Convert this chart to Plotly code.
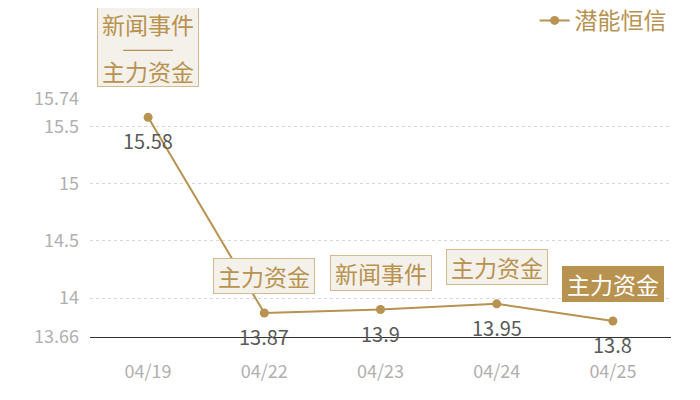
import plotly.graph_objects as go

dates = ["04/19", "04/22", "04/23", "04/24", "04/25"]
values = [15.58, 13.87, 13.9, 13.95, 13.8]
events = [["新闻事件", "主力资金"], ["主力资金"], ["新闻事件"], ["主力资金"], ["主力资金"]]
highlight = [False, False, False, False, True]
yticks = [13.66, 14, 14.5, 15, 15.5, 15.74]
series_name = "潜能恒信"

GOLD = "#b8924f"
CJK = "Noto Sans CJK SC"
BOXBG = "#f4f0ea"
BOXLINE = "#d2b98f"

fig = go.Figure()
fig.add_trace(go.Scatter(
    x=dates, y=values, mode="lines+markers", name=series_name,
    line=dict(color=GOLD, width=2),
    marker=dict(color=GOLD, size=9),
))

# value labels below points
for d, v in zip(dates, values):
    fig.add_annotation(x=d, y=v, text=str(v), showarrow=False,
                       yanchor="top", yshift=-7,
                       font=dict(family=CJK, size=20, color="#5a5a5a"))

# event boxes above points
for d, v, e, h in zip(dates, values, events, highlight):
    if len(e) == 1:
        fig.add_annotation(
            x=d, y=v, text=e[0], showarrow=False, yanchor="bottom", yshift=19,
            font=dict(family=CJK, size=23, color="#ffffff" if h else GOLD),
            bgcolor=GOLD if h else BOXBG,
            bordercolor=GOLD if h else BOXLINE,
            borderwidth=1, borderpad=1, width=98, height=32,
        )
    else:
        # box with the separator rule as its centred text
        fig.add_annotation(
            x=d, y=v, text="———", showarrow=False, yanchor="bottom", yshift=30,
            bgcolor=BOXBG, bordercolor=BOXLINE, borderwidth=1, borderpad=0,
            width=100, height=78, font=dict(family=CJK, size=21, color=GOLD),
        )
        for line_txt, s in zip(e, [93, 46]):
            fig.add_annotation(
                x=d, y=v, text=line_txt, showarrow=False, yanchor="middle", yshift=s,
                font=dict(family=CJK, size=23, color=GOLD),
            )

fig.update_layout(
    width=700, height=400,
    margin=dict(l=82, r=37, t=91, b=71, autoexpand=False),
    paper_bgcolor="white", plot_bgcolor="white",
    showlegend=True,
    legend=dict(x=0.948, y=1.33, xref="container", yref="paper",
                xanchor="right", yanchor="middle",
                font=dict(family=CJK, size=23, color=GOLD),
                bgcolor="rgba(0,0,0,0)", itemwidth=30, tracegroupgap=0),
    xaxis=dict(type="category", range=[-0.5, 4.5], showgrid=False, showline=True,
               linecolor="#333333", linewidth=1, zeroline=False,
               ticks="", tickfont=dict(family=CJK, size=18, color="#b0b0b0"),
               ticklabelstandoff=18),
    yaxis=dict(range=[13.66, 15.74], tickvals=yticks, ticktext=[str(t) for t in yticks],
               showgrid=True, gridcolor="#d8d8d8", griddash="dot", gridwidth=1,
               zeroline=False, showline=False, ticks="",
               tickfont=dict(family=CJK, size=18, color="#b0b0b0"),
               ticklabelstandoff=10),
)

fig.write_html("out.html")
